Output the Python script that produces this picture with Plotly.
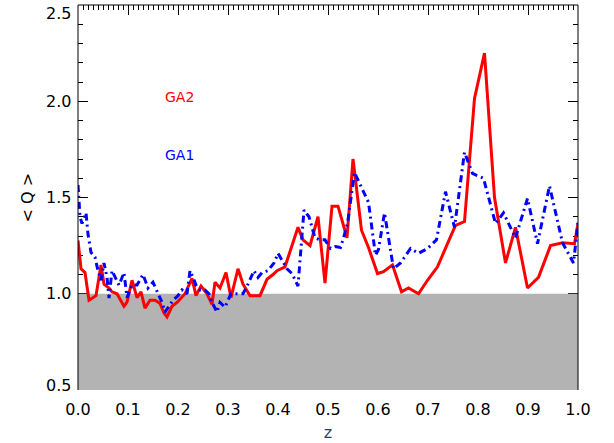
import plotly.graph_objects as go

# <Q> as a function of z for the two samples
z_ga2 = [0.000, 0.006, 0.014, 0.022, 0.036, 0.046, 0.052, 0.062, 0.068, 0.078,
         0.092, 0.098, 0.108, 0.118, 0.126, 0.134, 0.144, 0.154, 0.164, 0.172,
         0.178, 0.188, 0.198, 0.214, 0.228, 0.236, 0.246, 0.258, 0.268, 0.274,
         0.284, 0.296, 0.306, 0.320, 0.330, 0.344, 0.364, 0.378, 0.390, 0.398,
         0.414, 0.440, 0.450, 0.464, 0.480, 0.494, 0.508, 0.520, 0.538, 0.550,
         0.567, 0.581, 0.599, 0.611, 0.629, 0.647, 0.661, 0.681, 0.699, 0.719,
         0.739, 0.755, 0.773, 0.793, 0.813, 0.833, 0.855, 0.875, 0.899, 0.921,
         0.945, 0.969, 0.993, 1.000]
q_ga2 = [1.277, 1.13, 1.11, 0.966, 0.99, 1.15, 1.05, 1.03, 1.01, 1.00,
         0.935, 0.956, 1.07, 0.98, 1.01, 0.925, 0.966, 0.966, 0.95, 0.90,
         0.88, 0.935, 0.955, 1.00, 1.08, 0.99, 1.04, 1.00, 0.945, 1.06,
         1.03, 1.11, 0.98, 1.13, 1.05, 0.99, 0.99, 1.075, 1.10, 1.12,
         1.14, 1.345, 1.28, 1.25, 1.40, 1.055, 1.455, 1.455, 1.29, 1.70,
         1.33, 1.24, 1.105, 1.115, 1.15, 1.01, 1.03, 1.00, 1.07, 1.14,
         1.26, 1.355, 1.375, 2.015, 2.25, 1.50, 1.16, 1.345, 1.03, 1.085,
         1.25, 1.265, 1.26, 1.365]

z_ga1 = [0.000, 0.004, 0.008, 0.016, 0.020, 0.026, 0.034, 0.040, 0.046, 0.052,
         0.058, 0.062, 0.068, 0.076, 0.082, 0.092, 0.098, 0.108, 0.118, 0.130,
         0.140, 0.150, 0.158, 0.168, 0.174, 0.180, 0.190, 0.200, 0.208, 0.218,
         0.224, 0.230, 0.236, 0.244, 0.254, 0.262, 0.268, 0.278, 0.284, 0.294,
         0.306, 0.318, 0.330, 0.340, 0.352, 0.360, 0.368, 0.380, 0.392, 0.400,
         0.408, 0.418, 0.428, 0.440, 0.452, 0.462, 0.474, 0.484, 0.494, 0.505,
         0.515, 0.525, 0.531, 0.539, 0.553, 0.569, 0.581, 0.595, 0.601, 0.613,
         0.631, 0.645, 0.665, 0.681, 0.699, 0.717, 0.735, 0.753, 0.773, 0.789,
         0.811, 0.835, 0.851, 0.875, 0.899, 0.919, 0.943, 0.969, 0.991, 1.000]
q_ga1 = [1.565, 1.40, 1.365, 1.42, 1.31, 1.215, 1.19, 1.12, 1.07, 1.16,
         1.085, 0.977, 1.12, 1.08, 1.045, 1.11, 0.98, 1.045, 1.045, 1.10,
         1.03, 1.06, 1.01, 0.955, 0.905, 0.93, 0.966, 0.99, 1.02, 1.00,
         1.12, 1.085, 1.045, 1.02, 1.02, 1.00, 0.955, 0.905, 0.955, 0.93,
         1.00, 1.00, 1.00, 1.05, 1.12, 1.085, 1.11, 1.12, 1.16, 1.21,
         1.175, 1.13, 1.105, 1.04, 1.435, 1.40, 1.29, 1.28, 1.28, 1.235,
         1.245, 1.24, 1.29, 1.365, 1.63, 1.54, 1.475, 1.20, 1.23, 1.42,
         1.13, 1.16, 1.235, 1.21, 1.235, 1.28, 1.53, 1.345, 1.735, 1.625,
         1.60, 1.365, 1.42, 1.29, 1.495, 1.26, 1.56, 1.265, 1.16, 1.37]

x_ticks = [0.0, 0.1, 0.2, 0.3, 0.4, 0.5, 0.6, 0.7, 0.8, 0.9, 1.0]
y_ticks = [0.5, 1.0, 1.5, 2.0, 2.5]
q_floor = [0.5, 1.0]  # shaded band below <Q> = 1

font_main = "DejaVu Sans"
y_range = [0.5, 2.5]

fig = go.Figure()

# shaded band, drawn first so it hides the axis ticks that fall inside it
x0, x1 = x_ticks[0], x_ticks[-1]
fig.add_trace(go.Scatter(x=[x0, x1, x1, x0], y=[q_floor[0], q_floor[0], q_floor[1], q_floor[1]],
                         mode="lines", fill="toself", fillcolor="#b3b3b3",
                         line=dict(width=0), hoverinfo="skip", showlegend=False))
fig.add_trace(go.Scatter(x=z_ga2, y=q_ga2, mode="lines",
                         line=dict(color="#ff0000", width=3), showlegend=False))
fig.add_trace(go.Scatter(x=z_ga1, y=q_ga1, mode="lines",
                         line=dict(color="#0000ff", width=3, dash="7px,4px,2px,4px"),
                         showlegend=False))

# frame: left, top and right edges
frame_line = dict(color="black", width=1)
fig.add_shape(type="line", xref="paper", yref="paper", x0=0, x1=0, y0=0, y1=1,
              line=frame_line, layer="above")
fig.add_shape(type="line", xref="paper", yref="paper", x0=0, x1=1, y0=1, y1=1,
              line=frame_line, layer="above")
fig.add_shape(type="line", xref="paper", yref="paper", x0=1, x1=1, y0=0, y1=1,
              line=frame_line, layer="above")

fig.add_annotation(x=0.17, y=2.02, xref="x", yref="y", text="GA2",
                   showarrow=False, xanchor="left", yanchor="middle",
                   font=dict(family=font_main, size=14, color="#ff0000"))
fig.add_annotation(x=0.17, y=1.72, xref="x", yref="y", text="GA1",
                   showarrow=False, xanchor="left", yanchor="middle",
                   font=dict(family=font_main, size=14, color="#0000ff"))

# y tick labels; the end labels are pulled inside the frame
for v in y_ticks:
    shift = 0
    if v == y_range[1]:
        shift = -8
    elif v == y_range[0]:
        shift = 5
    fig.add_annotation(x=0, y=v, xref="paper", yref="y", text=f"{v:.1f}",
                       showarrow=False, xanchor="right", yanchor="middle",
                       xshift=-5, yshift=shift,
                       font=dict(family=font_main, size=16, color="black"))

fig.add_annotation(x=0, y=0.5, xref="paper", yref="paper", text="&lt; Q &gt;",
                   showarrow=False, textangle=-90, xanchor="center",
                   yanchor="middle", xshift=-51,
                   font=dict(family=font_main, size=16, color="black"))

tick_font = dict(family=font_main, size=16, color="black")

fig.update_layout(
    width=614, height=443,
    margin=dict(l=78, r=36, t=5, b=53),
    paper_bgcolor="white", plot_bgcolor="white",
    xaxis=dict(range=[0, 1], tickmode="array", tickvals=x_ticks,
               ticktext=[f"{v:.1f}" for v in x_ticks],
               ticks="inside", ticklen=10, tickcolor="black", mirror="ticks",
               minor=dict(ticks="inside", dtick=0.01, tick0=0, ticklen=5,
                          tickcolor="black"),
               layer="below traces",
               showline=False, showgrid=False, zeroline=False,
               tickfont=tick_font, ticklabelstandoff=8,
               title=dict(text="z", font=dict(family=font_main, size=16), standoff=8)),
    yaxis=dict(range=y_range, showticklabels=False,
               ticks="inside", ticklen=10, tickcolor="black", mirror="ticks",
               tickmode="linear", tick0=0.5, dtick=0.5,
               minor=dict(ticks="inside", dtick=0.1, tick0=0.5, ticklen=5,
                          tickcolor="black"),
               layer="below traces",
               showline=False, showgrid=False, zeroline=False),
)

fig.write_html("out.html")
